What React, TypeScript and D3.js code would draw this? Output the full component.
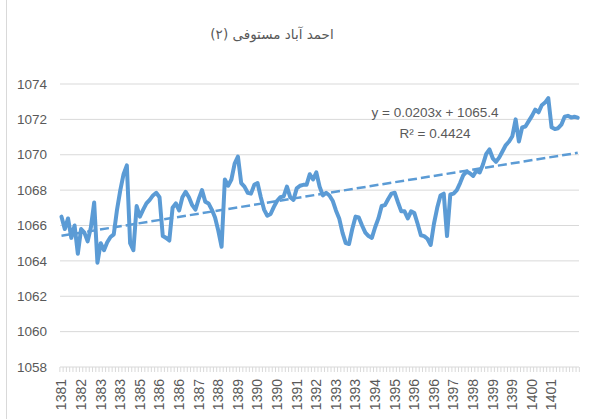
import React, { useRef, useEffect } from 'react';
import * as d3 from 'd3';

const title = 'احمد آباد مستوفی (۲)';

// x axis labels (one every 6 samples)
const tickLabels = [
  '1381', '1382', '1383', '1383', '1385', '1386', '1386', '1387', '1388', '1389',
  '1390', '1390', '1391', '1392', '1393', '1393', '1394', '1395', '1396', '1396',
  '1397', '1398', '1399', '1399', '1400', '1401',
];
const labelEvery = 6;

const yTicks = [1058, 1060, 1062, 1064, 1066, 1068, 1070, 1072, 1074];

// water level readings
const levels = [
  1066.5, 1065.8, 1066.4, 1065.3, 1066.0, 1064.4, 1065.8, 1065.6, 1065.1, 1065.9,
  1067.3, 1063.9, 1065.0, 1064.6, 1065.05, 1065.35, 1065.5, 1066.9, 1068.0, 1068.9,
  1069.4, 1065.0, 1064.6, 1067.1, 1066.5, 1066.9, 1067.25, 1067.45, 1067.7, 1067.85,
  1067.6, 1065.4, 1065.3, 1065.15, 1067.0, 1067.25, 1066.85, 1067.6, 1067.9, 1067.6,
  1067.15, 1066.9, 1067.5, 1068.0, 1067.35, 1067.25, 1066.9, 1066.45, 1065.7, 1064.8,
  1068.6, 1068.25, 1068.6, 1069.5, 1069.9, 1068.4, 1068.2, 1067.85, 1067.8, 1068.3,
  1068.4, 1067.6, 1066.9, 1066.55, 1066.65, 1067.05, 1067.4, 1067.6, 1067.65, 1068.2,
  1067.6, 1067.45, 1068.1, 1068.25, 1068.3, 1068.3, 1068.9, 1068.6, 1069.0, 1068.2,
  1067.7, 1067.85, 1067.7, 1067.4, 1066.85, 1066.4, 1065.6, 1065.0, 1064.95, 1065.8,
  1066.5, 1066.45, 1066.0, 1065.6, 1065.4, 1065.3, 1065.9, 1066.4, 1067.1, 1067.15,
  1067.5, 1067.8, 1067.85, 1067.3, 1066.8, 1066.8, 1066.4, 1066.8, 1066.7, 1066.1,
  1065.45, 1065.4, 1065.25, 1064.9, 1066.1, 1067.0, 1067.7, 1067.8, 1065.4, 1067.75,
  1067.8, 1068.0, 1068.4, 1068.85, 1069.05, 1068.95, 1068.8, 1069.1, 1069.0, 1069.45,
  1070.05, 1070.3, 1069.8, 1069.6, 1069.85, 1070.2, 1070.55, 1070.75, 1071.05, 1072.0,
  1070.75, 1071.55, 1071.6, 1071.9, 1072.2, 1072.55, 1072.4, 1072.8, 1072.95, 1073.2,
  1071.55, 1071.45, 1071.5, 1071.7, 1072.15, 1072.2, 1072.1, 1072.15, 1072.1,
];

// linear trendline as reported on the chart (x = 1..originalCount)
const trendSlope = 0.0203;
const trendIntercept = 1065.4;
const originalCount = 232;
const equationLines = ['y = 0.0203x + 1065.4', 'R² = 0.4424'];

const W = 589;
const H = 419;

const LevelChart = () => {
  const svgRef = useRef<SVGSVGElement | null>(null);

  useEffect(() => {
    const svg = d3.select(svgRef.current);
    svg.selectAll('*').remove();

    const n = levels.length;
    const x = d3.scaleLinear().domain([0, n - 1]).range([61.5, 577.7]);
    const y = d3.scaleLinear().domain([1058, 1074]).range([367, 84]);
    const gridLeft = 60;
    const gridRight = 579;

    svg.append('rect').attr('width', W).attr('height', H).attr('fill', '#fff');
    // chart area border (only left edge is in frame)
    svg.append('rect')
      .attr('x', 6.5).attr('y', -2)
      .attr('width', 620).attr('height', 440)
      .attr('fill', 'none')
      .attr('stroke', '#d9d9d9');

    svg.append('text')
      .attr('x', 272)
      .attr('y', 39)
      .attr('text-anchor', 'middle')
      .attr('direction', 'rtl')
      .style('font-family', 'DejaVu Sans, sans-serif')
      .style('font-size', '13.5px')
      .style('fill', '#595959')
      .text(title);

    // grid lines
    svg.selectAll('.grid')
      .data(yTicks.slice(1))
      .enter().append('line')
      .attr('x1', gridLeft).attr('x2', gridRight)
      .attr('y1', d => y(d)).attr('y2', d => y(d))
      .attr('stroke', '#d9d9d9')
      .attr('stroke-width', 1);

    // y labels
    svg.selectAll('.ylab')
      .data(yTicks)
      .enter().append('text')
      .attr('x', 47)
      .attr('y', d => y(d))
      .attr('dy', '0.35em')
      .attr('text-anchor', 'end')
      .style('font-family', 'Liberation Sans, Arial, sans-serif')
      .style('font-size', '13.5px')
      .style('fill', '#595959')
      .text(d => d);

    // category axis with a tick for every sample
    const axis = svg.append('g');
    axis.append('line')
      .attr('x1', gridLeft).attr('x2', gridRight)
      .attr('y1', y(1058)).attr('y2', y(1058))
      .attr('stroke', '#d9d9d9');
    axis.selectAll('.tk')
      .data(d3.range(n + 1))
      .enter().append('line')
      .attr('x1', i => x(i) - 1.63).attr('x2', i => x(i) - 1.63)
      .attr('y1', y(1058)).attr('y2', y(1058) + 5)
      .attr('stroke', '#d9d9d9');

    axis.selectAll('.xlab')
      .data(tickLabels)
      .enter().append('text')
      .attr('transform', (d, i) => `translate(${x(i * labelEvery)},379) rotate(-90)`)
      .attr('dy', '0.35em')
      .attr('text-anchor', 'end')
      .style('font-family', 'Liberation Sans, Arial, sans-serif')
      .style('font-size', '14px')
      .style('fill', '#595959')
      .text(d => d);

    // series
    const line = d3.line<number>()
      .x((d, i) => x(i))
      .y(d => y(d));

    svg.append('path')
      .datum(levels)
      .attr('fill', 'none')
      .attr('stroke', '#5b9bd5')
      .attr('stroke-width', 4)
      .attr('stroke-linejoin', 'round')
      .attr('stroke-linecap', 'round')
      .attr('d', line);

    // trendline from the fitted equation
    const toOrig = d3.scaleLinear().domain([0, n - 1]).range([1, originalCount]);
    const trend = [0, n - 1].map(i => ({ i, v: trendSlope * toOrig(i) + trendIntercept }));
    svg.append('path')
      .datum(trend)
      .attr('fill', 'none')
      .attr('stroke', '#5b9bd5')
      .attr('stroke-width', 2.5)
      .attr('stroke-dasharray', '9,4')
      .attr('d', d3.line<{ i: number; v: number }>().x(d => x(d.i)).y(d => y(d.v)));

    svg.selectAll('.eq')
      .data(equationLines)
      .enter().append('text')
      .attr('x', 435)
      .attr('y', (d, i) => 112 + i * 21)
      .attr('dy', '0.35em')
      .attr('text-anchor', 'middle')
      .style('font-family', 'Liberation Sans, Arial, sans-serif')
      .style('font-size', '13.5px')
      .style('fill', '#595959')
      .text(d => d);
  }, []);

  return (
    <svg
      ref={svgRef}
      width={W}
      height={H}
      style={{ position: 'absolute', left: 0, top: 0, display: 'block' }}
    />
  );
};

export default function App() {
  return <LevelChart />;
}
